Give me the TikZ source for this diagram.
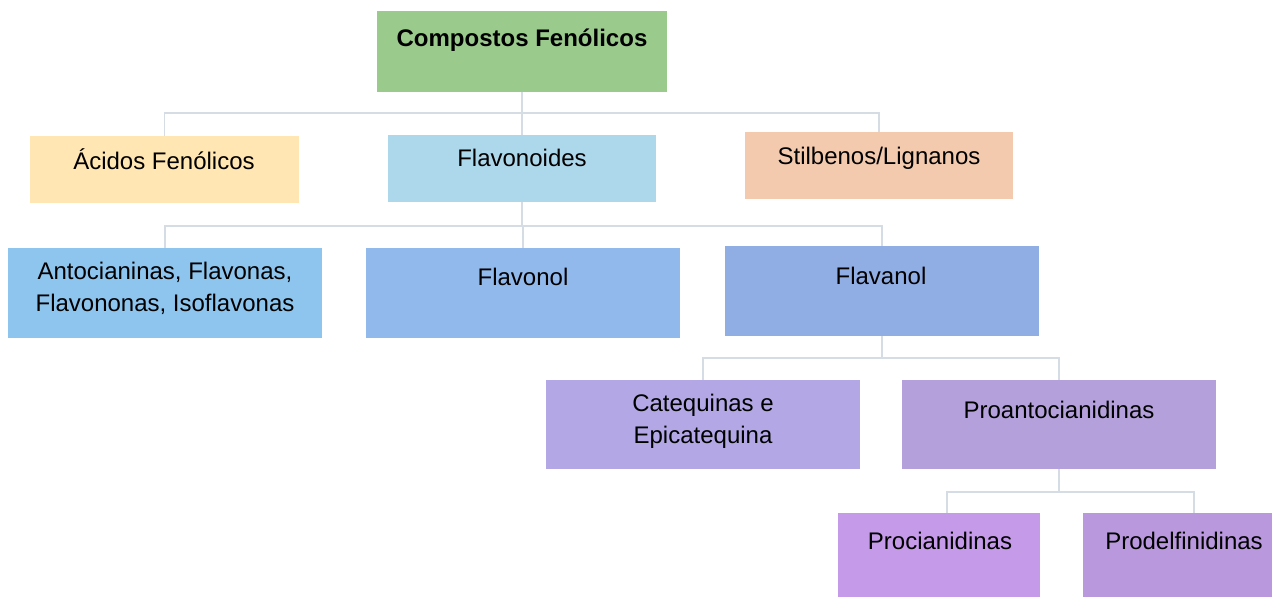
\documentclass[tikz,border=0pt]{standalone}
\usepackage{fontspec}
\setmainfont{Liberation Sans}
\usepackage{tikz}
\usetikzlibrary{positioning}
\definecolor{cgreen}{HTML}{9BCA8D}
\definecolor{cacid}{HTML}{FFE6B2}
\definecolor{cflavd}{HTML}{ADD7EA}
\definecolor{cstilb}{HTML}{F3CAAE}
\definecolor{cantoc}{HTML}{8EC5EE}
\definecolor{cflavonol}{HTML}{92B9EC}
\definecolor{cflavanol}{HTML}{90AEE4}
\definecolor{ccateq}{HTML}{B3A8E5}
\definecolor{cproant}{HTML}{B4A1DC}
\definecolor{cprocian}{HTML}{C59AE9}
\definecolor{cprodelf}{HTML}{B998DD}
\definecolor{cline}{HTML}{D6DCE4}
\tikzset{box/.style={rectangle,fill=#1,inner sep=0pt},
         txt/.style={anchor=base,inner sep=0pt,align=center,
                      font=\fontsize{12}{16}\selectfont},
         conn/.style={draw=cline,line width=0.8pt}}

\begin{document}
\begin{tikzpicture}[x=0.5pt,y=-0.5pt]
  \useasboundingbox (0,0) rectangle (1272,597);
  % boxes
  \node[box=cgreen,minimum width=145pt,minimum height=40.5pt] (compostos) at (522,51.5) {};
  \node[box=cacid,minimum width=134.5pt,minimum height=33.5pt] (acidos) at (164.5,169.5) {};
  \node[box=cflavd,minimum width=134pt,minimum height=33.5pt] (flavonoides) at (522,168.5) {};
  \node[box=cstilb,minimum width=134pt,minimum height=33.5pt] (stilbenos) at (879,165.5) {};
  \node[box=cantoc,minimum width=157pt,minimum height=45pt] (antoc) at (165,293) {};
  \node[box=cflavonol,minimum width=157pt,minimum height=45pt] (flavonol) at (523,293) {};
  \node[box=cflavanol,minimum width=157pt,minimum height=45pt] (flavanol) at (882,291) {};
  \node[box=ccateq,minimum width=157pt,minimum height=44.5pt] (catequinas) at (703,424.5) {};
  \node[box=cproant,minimum width=157pt,minimum height=44.5pt] (proanto) at (1059,424.5) {};
  \node[box=cprocian,minimum width=101pt,minimum height=42pt] (procian) at (939,555) {};
  \node[box=cprodelf,minimum width=94.5pt,minimum height=42pt] (prodelf) at (1177.5,555) {};
  % texts
  \node[txt] (compostosT) at (522,47) {\textbf{Compostos Fenólicos}};
  \node[txt] (acidosT) at (164,170) {Ácidos Fenólicos};
  \node[txt] (flavonoidesT) at (522,167) {Flavonoides};
  \node[txt] (stilbenosT) at (879,165) {Stilbenos/Lignanos};
  \node[txt] (antocT) at (165,312) {Antocianinas, Flavonas,\\Flavononas, Isoflavonas};
  \node[txt] (flavonolT) at (523,286) {Flavonol};
  \node[txt] (flavanolT) at (881,285) {Flavanol};
  \node[txt] (catequinasT) at (703,444) {Catequinas e\\Epicatequina};
  \node[txt] (proantoT) at (1059,419) {Proantocianidinas};
  \node[txt] (procianT) at (940,549) {Procianidinas};
  \node[txt] (prodelfT) at (1184,549) {Prodelfinidinas};
  % connectors
  \coordinate (j1) at (522,113);
  \coordinate (j2) at (522,226);
  \coordinate (j3) at (882,358);
  \coordinate (j4) at (1059,492);
  \coordinate (pcTop) at (947,513);
  \coordinate (pdTop) at (1194,513);
  \draw[conn] (compostos.south) -- (j1) -| (acidos.north);
  \draw[conn] (j1) -| (stilbenos.north);
  \draw[conn] (j1) -- (flavonoides.north);
  \draw[conn] (flavonoides.south) -- (j2) -| (antoc.north);
  \draw[conn] (j2) -| (flavanol.north);
  \draw[conn] (j2) -| (flavonol.north);
  \draw[conn] (flavanol.south) -- (j3) -| (catequinas.north);
  \draw[conn] (j3) -| (proanto.north);
  \draw[conn] (proanto.south) -- (j4) -| (pcTop);
  \draw[conn] (j4) -| (pdTop);
\end{tikzpicture}
\end{document}
